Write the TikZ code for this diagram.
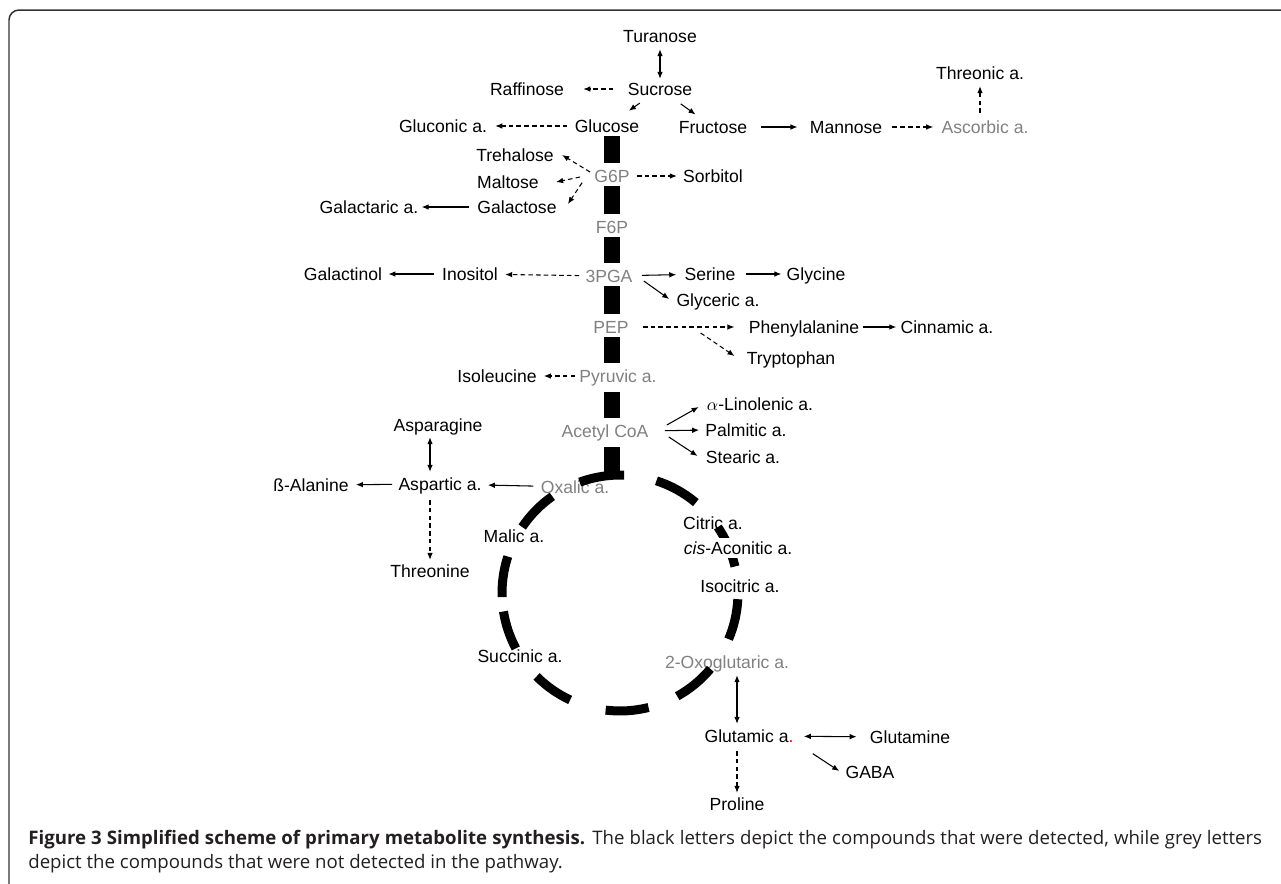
\documentclass[tikz,border=0pt]{standalone}
\usepackage{fontspec}
\setmainfont{Liberation Sans}
\newfontfamily\capfont{Open Sans}
\usetikzlibrary{arrows.meta,calc}
\definecolor{undet}{gray}{0.5}
\definecolor{capink}{RGB}{35,31,32}

\begin{document}
\begin{tikzpicture}[x=0.02cm, y=-0.02cm, line join=round, >={Latex[length=4pt,width=3.2pt]}, font=\fontsize{10}{12}\selectfont,
	met/.style={inner sep=0pt, text height=7.2pt, text depth=0pt},
	nd/.style={met, text=undet},
	rxn/.style={->, line width=0.6pt},
	drxn/.style={->, line width=0.6pt, dash pattern=on 2.6pt off 1.8pt},
	spine/.style={line width=0.32cm, shorten <=0.2cm, shorten >=0.26cm},
	tcadash/.style={line width=0.18cm}]
				\useasboundingbox (0,0) rectangle (1281,883);
				\draw[line width=0.85pt, black!80, rounded corners=0.2cm] (1295,10) -- (9,10) -- (9,895);
				\node[met] (tur) at (660,36) {Turanose};
				\node[met] (suc) at (660,89) {Sucrose};
				\node[met] (raf) at (527,89) {Raffinose};
				\node[met] (glcn) at (443,126) {Gluconic a.};
				\node[met] (glc) at (607,126) {Glucose};
				\node[met] (fru) at (713,127) {Fructose};
				\node[met] (man) at (846,127) {Mannose};
				\node[nd] (asc) at (985,127) {Ascorbic a.};
				\node[met] (thr) at (980,73) {Threonic a.};
				\node[met] (tre) at (515,155) {Trehalose};
				\node[met] (mal) at (508,182) {Maltose};
				\node[nd] (g6p) at (612,176) {G6P};
				\node[met] (sor) at (713,176) {Sorbitol};
				\node[met] (gal) at (517,207) {Galactose};
				\node[met] (galr) at (369,207) {Galactaric a.};
				\node[nd] (f6p) at (612,227) {F6P};
				\node[met] (glol) at (343,274) {Galactinol};
				\node[met] (ino) at (470,274) {Inositol};
				\node[nd] (pga) at (609,276) {3PGA};
				\node[met] (ser) at (710,274) {Serine};
				\node[met] (gly) at (816,274) {Glycine};
				\node[met] (glyc) at (718,300) {Glyceric a.};
				\node[nd] (pep) at (611,327) {PEP};
				\node[met] (phe) at (804,327) {Phenylalanine};
				\node[met] (cin) at (947,327) {Cinnamic a.};
				\node[met] (trp) at (791,358) {Tryptophan};
				\node[met] (ile) at (497,376) {Isoleucine};
				\node[nd] (pyr) at (618,376) {Pyruvic a.};
				\node[met] (lin) at (760,404) {$\alpha$-Linolenic a.};
				\node[nd] (aco) at (605,431) {Acetyl CoA};
				\node[met] (pal) at (746,430) {Palmitic a.};
				\node[met] (ste) at (743,457) {Stearic a.};
				\node[met] (asn) at (438,425) {Asparagine};
				\node[met] (asp) at (440,484) {Aspartic a.};
				\node[met] (bal) at (311,485) {ß-Alanine};
				\node[nd] (oxa) at (575,487) {Oxalic a.};
				\node[met] (thn) at (430,571) {Threonine};
				\node[met] (mlc) at (514,536) {Malic a.};
				\node[met] (cit) at (713,523) {Citric a.};
				\node[met] (ici) at (740,586) {Isocitric a.};
				\node[met] (suca) at (520,656) {Succinic a.};
				\node[nd] (ogl) at (727,662) {2-Oxoglutaric a.};
				\node[met] (glu) at (749,736) {Glutamic a\textcolor{red}{.}};
				\node[met] (gln) at (910,737) {Glutamine};
				\node[met] (gaba) at (870,772) {GABA};
				\node[met] (pro) at (737,804) {Proline};
				\coordinate (sx) at (612,0);
				\coordinate (tca) at (620,593);
				\coordinate (tcatop) at (612,476);
				\draw[spine] (sx |- glc) -- (sx |- g6p);
				\draw[spine] (sx |- g6p) -- (sx |- f6p);
				\draw[spine] (sx |- f6p) -- (sx |- pga);
				\draw[spine] (sx |- pga) -- (sx |- pep);
				\draw[spine] (sx |- pep) -- (sx |- pyr);
				\draw[spine, shorten <=0.32cm] (sx |- pyr) -- (sx |- aco);
				\draw[spine, shorten <=0.32cm, shorten >=0pt] (sx |- aco) -- (tcatop);
				\foreach \a/\b in {-97/-76, -61/-40, -23/-3, 13/34, 50/72, 88/110, 125/146, 162/182, 189/208, 225/245}
					\draw[tcadash] ([shift={(\a:2.36cm)}]tca) arc[start angle=\a, end angle=\b, radius=2.36cm];
				\node[met, fill=white, inner ysep=0.08cm] (cac) at (738,548) {\textit{cis}-Aconitic a.};
				\draw[rxn, <->, shorten <=0.13cm, shorten >=0.07cm] (tur) -- (suc);
				\draw[drxn, shorten <=0.28cm, shorten >=0.38cm] (suc) -- (raf);
				\draw[rxn, shorten <=0.26cm, shorten >=0.3cm] (suc) -- (glc);
				\draw[rxn, shorten <=0.28cm, shorten >=0.2cm] (suc) -- (fru);
				\draw[drxn, shorten <=0.14cm, shorten >=0.16cm] (glc) -- (glcn);
				\draw[rxn, shorten <=0.26cm, shorten >=0.24cm] (fru) -- (man);
				\draw[drxn, shorten <=0.2cm, shorten >=0.16cm] (man) -- (asc);
				\draw[drxn, shorten <=0.15cm, shorten >=0.13cm] ($(asc.north)+(-5,0)$) -- (thr.south);
				\draw[drxn, shorten <=0.14cm, shorten >=0.12cm] (g6p) -- (sor);
				\draw[drxn] ($(g6p.west)+(-4,-4)$) -- ($(tre.east)+(8,0)$);
				\draw[drxn] ($(g6p.west)+(-14,1)$) -- ($(mal.east)+(17,0)$);
				\draw[drxn] ($(g6p.south west)+(-12,0)$) -- ($(gal.east)+(11,-3)$);
				\draw[rxn, shorten <=0.16cm, shorten >=0.06cm] (gal) -- (galr);
				\draw[drxn, shorten <=0.12cm, shorten >=0.14cm] (pga) -- (ino);
				\draw[rxn, shorten <=0.16cm, shorten >=0.12cm] (ino) -- (glol);
				\draw[rxn, shorten <=0.18cm, shorten >=0.16cm] (pga) -- (ser);
				\draw[rxn, shorten <=0.2cm, shorten >=0.1cm] (ser) -- (gly);
				\draw[rxn] ($(pga.east)+(11,5)$) -- ($(glyc.west)+(-7,-1)$);
				\draw[drxn, shorten <=0.28cm, shorten >=0.28cm] (pep) -- (phe);
				\draw[rxn, shorten <=0.06cm, shorten >=0.08cm] (phe) -- (cin);
				\draw[drxn] ($(pep.east)!0.6!(phe.west) + (0,6)$) -- ($(trp.west)+(-12,-2)$);
				\draw[drxn, shorten <=0.08cm, shorten >=0.14cm] (pyr) -- (ile);
				\draw[rxn] ($(aco.east)+(18,-6)$) -- ($(lin.west)+(-8,3)$);
				\draw[rxn, shorten <=0.32cm, shorten >=0.12cm] (aco.east) -- (pal.west);
				\draw[rxn] ($(aco.east)+(20,6)$) -- ($(ste.west)+(-8,-1)$);
				\draw[rxn, shorten <=0.14cm, shorten >=0.12cm] (oxa) -- (asp);
				\draw[rxn, shorten <=0.12cm, shorten >=0.14cm] (asp) -- (bal);
				\draw[rxn, <->, shorten <=0.11cm, shorten >=0.11cm] (asn.south -| thn) -- (asp.north -| thn);
				\draw[drxn, shorten <=0.19cm, shorten >=0.09cm] (asp.south -| thn) -- (thn);
				\draw[rxn, <->, shorten <=0.13cm, shorten >=0.11cm] (ogl.south -| pro) -- (glu.north -| pro);
				\draw[rxn, <->, shorten <=0.2cm, shorten >=0.26cm] (glu) -- (gln);
				\draw[rxn] ($(glu.south east)+(19,11)$) -- ($(gaba.west)+(-6,-1)$);
				\draw[drxn, shorten <=0.17cm, shorten >=0.09cm] (glu.south -| pro) -- (pro);
				\node[anchor=north west, text width=24.68cm, align=justify, inner sep=0pt, text=capink, font=\capfont\fontsize{10.6}{13.4}\selectfont] (cap) at (28,830) {\textbf{Figure 3 Simplified scheme of primary metabolite synthesis.} The black letters depict the compounds that were detected, while grey letters\linebreak depict the compounds that were not detected in the pathway.};
			\end{tikzpicture}
\end{document}
